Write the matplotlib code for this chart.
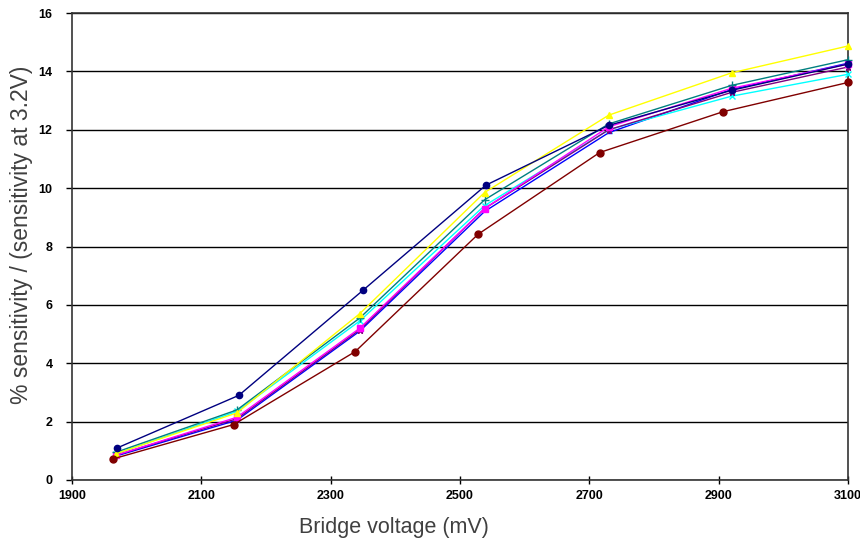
import matplotlib
matplotlib.use("Agg")
import matplotlib.pyplot as plt

plt.rcParams['font.family'] = ['Liberation Sans', 'DejaVu Sans']

x_common = [1968, 2155, 2345, 2538, 2730, 2920, 3100]
x_navy = [1970, 2158, 2350, 2540, 2730, 2920, 3100]
x_maroon = [1963, 2150, 2338, 2528, 2716, 2907, 3100]

navy = [1.10, 2.90, 6.50, 10.10, 12.15, 13.35, 14.25]
magenta = [0.85, 2.15, 5.20, 9.30, 12.10, 13.42, 14.25]
yellow = [0.90, 2.30, 5.70, 9.85, 12.50, 13.95, 14.87]
cyan = [0.90, 2.35, 5.45, 9.40, 12.00, 13.15, 13.90]
purple = [0.85, 2.10, 5.15, 9.30, 12.00, 13.28, 14.15]
maroon = [0.72, 1.90, 4.40, 8.42, 11.22, 12.62, 13.62]
teal = [0.95, 2.40, 5.55, 9.60, 12.20, 13.52, 14.40]
blue = [0.82, 2.05, 5.10, 9.20, 11.90, 13.38, 14.28]

x_ticks = [1900, 2100, 2300, 2500, 2700, 2900, 3100]
y_ticks = [0, 2, 4, 6, 8, 10, 12, 14, 16]

fig = plt.figure(figsize=(8.6, 5.44), dpi=100)
ax = fig.add_axes([72/860, 64/544, (848-72)/860, (480-13)/544])

series = [
    (x_common, blue, '#0000FF', '_', 5),
    (x_common, cyan, '#00FFFF', 'x', 4),
    (x_common, purple, '#800080', '*', 5),
    (x_common, magenta, '#FF00FF', 's', 4),
    (x_common, teal, '#008080', '+', 6),
    (x_common, yellow, '#FFFF00', '^', 5),
    (x_maroon, maroon, '#800000', 'o', 5),
    (x_navy, navy, '#000080', 'o', 4.5),
]
for xs, ys, c, m, ms in series:
    ax.plot(xs, ys, color=c, marker=m, markersize=ms, linewidth=1.0,
            markeredgecolor=c, markerfacecolor=c, clip_on=False, zorder=3)

tick_font = dict(family=['Liberation Sans Narrow', 'Liberation Sans', 'DejaVu Sans'],
                 size=9, weight='bold')
ax.set_xlim(1900, 3100)
ax.set_ylim(0, 16)
ax.set_xticks(x_ticks)
ax.set_yticks(y_ticks)
ax.set_xticklabels([str(v) for v in x_ticks], fontdict=tick_font)
ax.set_yticklabels([str(v) for v in y_ticks], fontdict=tick_font)
ax.tick_params(axis='x', direction='inout', length=6, width=1, pad=4, colors='black')
ax.tick_params(axis='y', direction='out', length=4, width=1, pad=10, colors='black')
ax.yaxis.grid(True, color='black', linewidth=1.0)
ax.set_axisbelow(True)
for s in ax.spines.values():
    s.set_color('#333333')
    s.set_linewidth(1.2)

fig.text(394/860, 1 - 528/544, 'Bridge voltage (mV)', ha='center', va='center',
         fontsize=15.5, color='#404040')
fig.text(22/860, 1 - 235/544, '% sensitivity / (sensitivity at 3.2V)', ha='center', va='center',
         rotation=90, fontsize=16.5, color='#404040')

fig.savefig('out.png', dpi=100)
